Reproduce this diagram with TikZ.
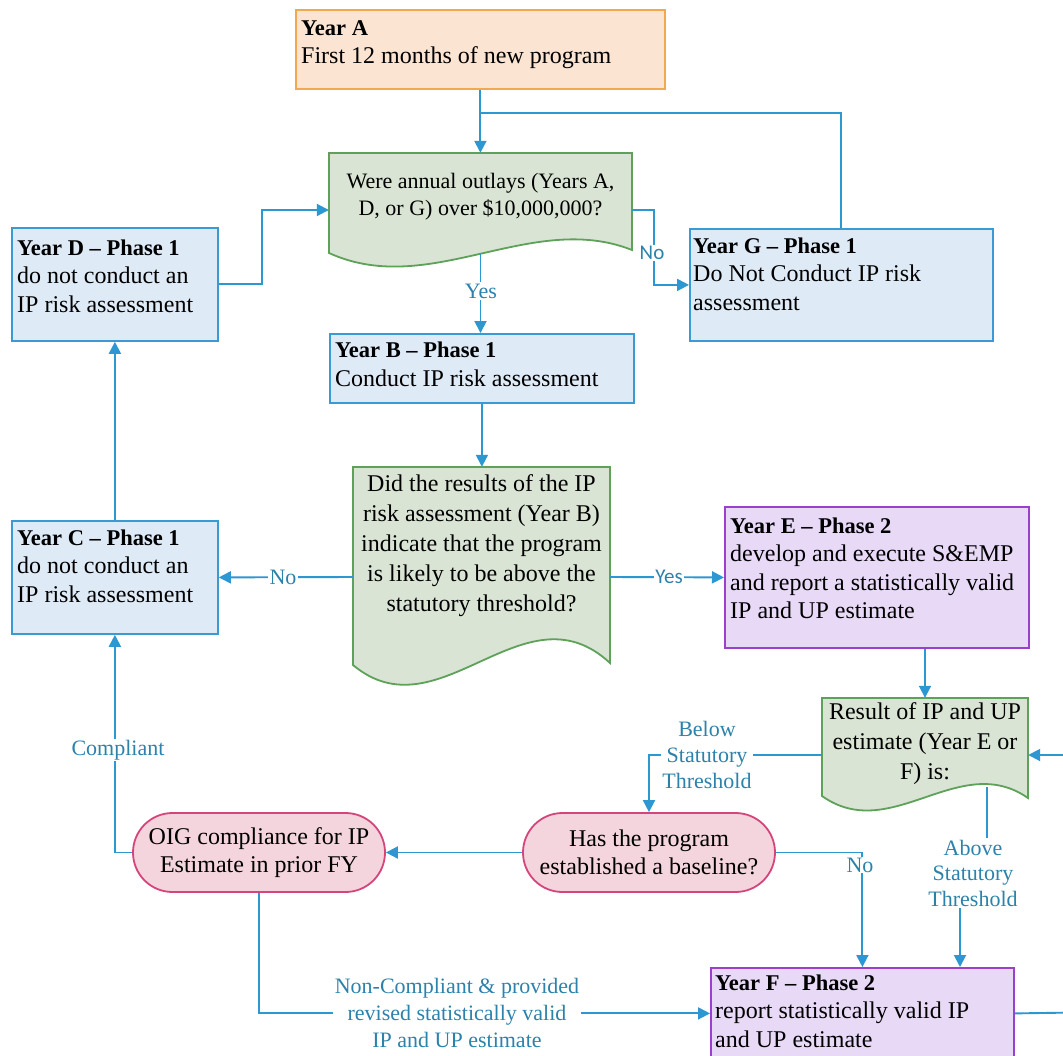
\documentclass[tikz,border=0pt]{standalone}
\usepackage{fontspec}
\setmainfont{Liberation Serif}
\newfontfamily\lblsans{Carlito}
\usetikzlibrary{arrows.meta,shapes.misc,calc}
\definecolor{cline}{HTML}{2C97D1}
\definecolor{clabel}{HTML}{2C82AA}
\definecolor{bfill}{HTML}{DEEAF6}
\definecolor{bdraw}{HTML}{3A9AD4}
\definecolor{gfill}{HTML}{D9E4D4}
\definecolor{gdraw}{HTML}{5EA25A}
\definecolor{ofill}{HTML}{FBE4D2}
\definecolor{odraw}{HTML}{F2A84E}
\definecolor{pfill}{HTML}{E8D9F7}
\definecolor{pdraw}{HTML}{9B40CC}
\definecolor{rfill}{HTML}{F4D5DD}
\definecolor{rdraw}{HTML}{D4457C}
\newcommand\yrtitle[1]{{\fontsize{22.5}{28.5}\selectfont\bfseries #1}}
\begin{document}
\begin{tikzpicture}[x=1pt,y=-1pt,
  box/.style={line width=1.8pt, inner sep=0pt, anchor=north west},
  bluebox/.style={box, draw=bdraw, fill=bfill},
  orangebox/.style={box, draw=odraw, fill=ofill},
  purplebox/.style={box, draw=pdraw, fill=pfill},
  docshape/.style={line width=1.8pt, draw=gdraw, fill=gfill},
  anchorbox/.style={inner sep=0pt, draw=none},
  termbox/.style={rounded rectangle, line width=1.8pt, draw=rdraw, fill=rfill,
     minimum width=252pt, minimum height=79pt, inner sep=0pt, align=center,
     font=\fontsize{24}{28.5}\selectfont},
  txt/.style={inner sep=0pt, align=left, anchor=north west, font=\fontsize{24}{28.5}\selectfont},
  ctxt/.style={inner sep=0pt, align=center, anchor=north},
  conn/.style={draw=cline, line width=1.9pt, -{Triangle[length=12pt,width=12pt]}},
  plainconn/.style={draw=cline, line width=1.9pt},
  lbl/.style={fill=white, text=clabel, inner sep=1.5pt, align=center,
     font=\fontsize{22}{26}\selectfont},
  lbls/.style={fill=white, text=clabel, inner sep=1.5pt, align=center,
     font=\lblsans\fontsize{21}{25}\selectfont},
  ]
\useasboundingbox (0,0) rectangle (1063,1055);
\clip (0,0) rectangle (1063,1055);
\fill[white] (0,0) rectangle (1063,1055);

% ---------- boxes ----------
\node[orangebox, minimum width=369pt, minimum height=79pt] (ya) at (295,9) {};
\node[txt] (yat) at (301,20) {\yrtitle{Year A}\\First 12 months of new program};

\node[bluebox, minimum width=206pt, minimum height=113pt] (yd) at (11,227) {};
\node[txt] (ydt) at (17,239.5) {\yrtitle{Year D – Phase 1}\\do not conduct an\\IP risk assessment};

\node[bluebox, minimum width=303pt, minimum height=112pt] (yg) at (689,228) {};
\node[txt] (ygt) at (693,237.5) {\yrtitle{Year G – Phase 1}\\Do Not Conduct IP risk\\assessment};

\node[bluebox, minimum width=304pt, minimum height=69pt] (yb) at (329,333) {};
\node[txt] (ybt) at (335,342) {\yrtitle{Year B – Phase 1}\\Conduct IP risk assessment};

\node[bluebox, minimum width=206pt, minimum height=113pt] (yc) at (11,520) {};
\node[txt] (yct) at (17,529.5) {\yrtitle{Year C – Phase 1}\\do not conduct an\\IP risk assessment};

\node[purplebox, minimum width=304pt, minimum height=141pt] (ye) at (724,506) {};
\node[txt] (yet) at (730,517.5) {\yrtitle{Year E – Phase 2}\\develop and execute S\&EMP\\and report a statistically valid\\IP and UP estimate};

\node[purplebox, minimum width=303pt, minimum height=91pt] (yf) at (710,967) {};
\node[txt] (yft) at (715,974.5) {\yrtitle{Year F – Phase 2}\\report statistically valid IP\\and UP estimate};

% ---------- document (decision) shapes ----------
\path[docshape] (329,153) -- (632,153) -- (632,250)
  .. controls (531,210) and (430,299) .. (329,253) -- cycle;
\node[anchorbox, minimum width=303pt, minimum height=114pt] (d1) at (480.5,210) {};
\node[ctxt, font=\fontsize{22}{27}\selectfont] (d1t) at (480.5,173)
  {Were annual outlays (Years A,\\D, or G) over \$10,000,000?};

\path[docshape] (353,467) -- (610,467) -- (610,663)
  .. controls (524,583) and (439,737) .. (353,665) -- cycle;
\node[anchorbox, minimum width=257pt, minimum height=220pt] (d2) at (481.5,577) {};
\node[ctxt, font=\fontsize{24}{30}\selectfont] (d2t) at (481.5,474)
  {Did the results of the IP\\risk assessment (Year B)\\indicate that the program\\is likely to be above the\\statutory threshold?};

\path[docshape] (822,698) -- (1028,698) -- (1028,798)
  .. controls (959,750) and (891,845) .. (822,796) -- cycle;
\node[anchorbox, minimum width=206pt, minimum height=114pt] (res) at (925,755) {};
\node[ctxt, font=\fontsize{24}{30}\selectfont] (rest) at (925,702)
  {Result of IP and UP\\estimate (Year E or\\F) is:};

% ---------- terminators ----------
\node[termbox] (has) at (649,852.5) {Has the program\\established a baseline?};
\node[termbox] (oig) at (259,852.5) {OIG compliance for IP\\Estimate in prior FY};

% ---------- connectors ----------
\coordinate (loopj) at (480.5,113);
\coordinate (abj) at (960,873);
\coordinate (offr) at (1075,1012.5);
\coordinate (offt) at (1075,755);

\draw[conn] (ya.south) -- (ya.south |- d1.north);
\draw[plainconn] (yg.north) |- (loopj);
\draw[conn] (d1.east) -- ++(22,0) |- (yg.west);
\draw[conn] ([yshift=13pt]d1.south) -- (d1.south |- yb.north);
\draw[conn] (yd.east) -- ++(43,0) |- (d1.west);
\draw[conn] (yb.south) -- (yb.south |- d2.north);
\draw[conn] (d2.west) -- (yc.east);
\draw[conn] (d2.east) -- (ye.west);
\draw[conn] (yc.north) -- (yd.south);
\draw[conn] (ye.south -| res.north) -- (res.north);
\draw[conn] (yf.east) -- (offr) -- (offt) -- (res.east);
\draw[conn] (res.west) -| (has.north);
\draw[conn] (has.east) -| (yf.north);
\draw[conn] ([xshift=-41pt,yshift=25pt]res.south east) |- (abj) -- (abj |- yf.north);
\draw[conn] (has.west) -- (oig.east);
\draw[conn] (oig.west) -| (yc.south);
\draw[conn] (oig.south) |- (yf.west);

% ---------- connector labels ----------
\node[lbls] (lno1) at (652,253) {No};
\node[lbl] (lyes1) at (481,291) {Yes};
\node[lbl] (lno2) at (283,577) {No};
\node[lbls] (lyes2) at (669,577) {Yes};
\node[lbl] (lcomp) at (118,750) {Compliant};
\node[lbl] (lbelow) at (707,755) {Below\\Statutory\\Threshold};
\node[lbl, inner ysep=1pt] (lno3) at (860,865) {No};
\node[lbl, font=\fontsize{22}{25.5}\selectfont] (labove) at (973,873) {Above\\Statutory\\Threshold};
\node[lbl, font=\fontsize{22}{27}\selectfont] (lnonc) at (457,1012.5)
  {Non-Compliant \& provided\\revised statistically valid\\IP and UP estimate};
\end{tikzpicture}
\end{document}
